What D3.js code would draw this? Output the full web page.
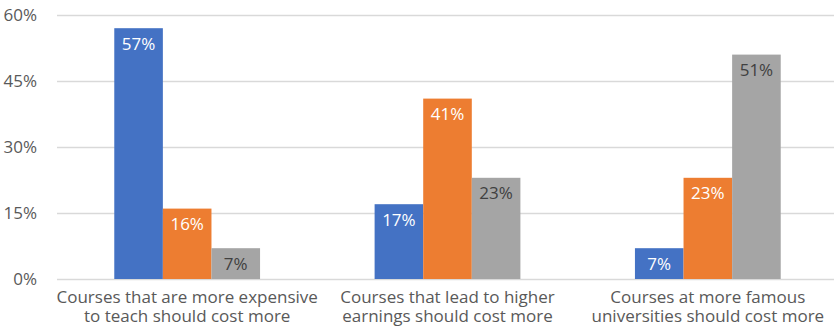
<!DOCTYPE html>
<html>
<head>
<meta charset="utf-8">
<script src="https://cdn.jsdelivr.net/npm/d3@7"></script>
<style>
  html, body { margin: 0; padding: 0; background: #fff; }
  svg { display: block; }
  text { font-family: "Open Sans", "DejaVu Sans", sans-serif; }
</style>
</head>
<body>
<svg id="chart" width="834" height="326"></svg>
<script>
// Survey statements (each label split over two lines)
const categories = [
  ["Courses that are more expensive", "to teach should cost more"],
  ["Courses that lead to higher", "earnings should cost more"],
  ["Courses at more famous", "universities should cost more"]
];
const seriesNames = ["Agree", "Neither", "Disagree"];
const seriesColors = ["#4472C4", "#ED7D31", "#A5A5A5"];
const labelColors = ["#FFFFFF", "#FFFFFF", "#404040"];

// Percentages per series, one value per statement
const seriesA = [57, 17, 7];
const seriesB = [16, 41, 23];
const seriesC = [7, 23, 51];
const seriesValues = [seriesA, seriesB, seriesC];

const yTicks = [0, 15, 30, 45, 60];

const svg = d3.select("#chart");
const plotLeft = 57, plotRight = 838, plotTop = 15, plotBottom = 279;
const fontPx = "17px";

const x0 = d3.scaleBand()
  .domain(d3.range(categories.length))
  .range([plotLeft, plotRight])
  .paddingInner(0.44)
  .paddingOuter(0.22);

const x1 = d3.scaleBand()
  .domain(d3.range(seriesNames.length))
  .range([0, x0.bandwidth()]);

const y = d3.scaleLinear().domain([0, 60]).range([plotBottom, plotTop]);

// Gridlines and y tick labels
const yAxis = d3.axisLeft(y)
  .tickValues(yTicks)
  .tickSize(-(plotRight - plotLeft))
  .tickPadding(20)
  .tickFormat(d => d + "%");

const gy = svg.append("g")
  .attr("transform", `translate(${plotLeft},0)`)
  .call(yAxis);
gy.select(".domain").remove();
gy.selectAll(".tick line").attr("stroke", "#D9D9D9").attr("stroke-width", 1.3);
gy.selectAll(".tick text")
  .attr("fill", "#595959")
  .style("font-size", fontPx)
  .attr("x", -20);

// Bars
const groups = svg.append("g").selectAll("g")
  .data(categories.map((c, i) => i))
  .join("g")
  .attr("transform", i => `translate(${x0(i)},0)`);

groups.selectAll("rect")
  .data(i => seriesValues.map((s, k) => ({ k, v: s[i] })))
  .join("rect")
  .attr("x", d => x1(d.k))
  .attr("y", d => y(d.v))
  .attr("width", x1.bandwidth())
  .attr("height", d => y(0) - y(d.v))
  .attr("fill", d => seriesColors[d.k]);

// Value labels inside the top of each bar
groups.selectAll("text.val")
  .data(i => seriesValues.map((s, k) => ({ k, v: s[i] })))
  .join("text")
  .attr("class", "val")
  .attr("x", d => x1(d.k) + x1.bandwidth() / 2)
  .attr("y", d => y(d.v) + 21.5)
  .attr("text-anchor", "middle")
  .attr("fill", d => labelColors[d.k])
  .style("font-size", fontPx)
  .text(d => d.v + "%");

// Category labels, one text element per line
const catGroups = svg.append("g").selectAll("g")
  .data(categories)
  .join("g");
catGroups.selectAll("text")
  .data((c, i) => c.map((line, j) => ({ line, j, i })))
  .join("text")
  .attr("x", d => x0(d.i) + x0.bandwidth() / 2)
  .attr("y", d => 303 + d.j * 19)
  .attr("text-anchor", "middle")
  .attr("fill", "#595959")
  .style("font-size", fontPx)
  .text(d => d.line);
</script>
</body>
</html>
